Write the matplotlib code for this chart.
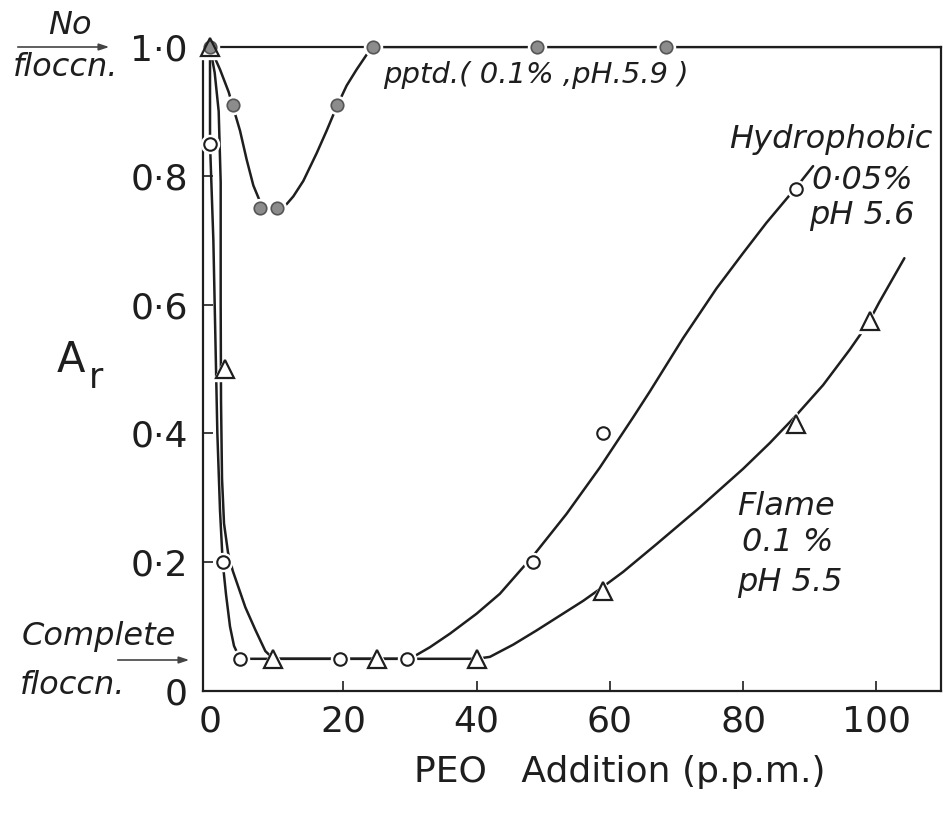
import matplotlib
matplotlib.use("Agg")
import matplotlib.pyplot as plt

# measured points: PEO addition (p.p.m.) vs relative absorbance A_r
pptd_x = [0, 3.5, 7.5, 10, 19, 24.5, 49, 68.5]
pptd_y = [1.0, 0.91, 0.75, 0.75, 0.91, 1.0, 1.0, 1.0]

hydro_x = [0, 2, 4.5, 19.5, 29.5, 48.5, 59, 88]
hydro_y = [0.85, 0.20, 0.05, 0.05, 0.05, 0.20, 0.40, 0.78]

flame_x = [0, 2.3, 9.5, 25, 40, 59, 88, 99]
flame_y = [1.0, 0.50, 0.05, 0.05, 0.05, 0.155, 0.415, 0.575]

# hand-drawn smooth curves through the points
pptd_curve_x = [0, 1.5, 2.8, 4.5, 5.5, 6.5, 7.5, 8.5, 9.5, 10.5, 11.5, 12.5,
                14, 16, 17.5, 19, 20.5, 22, 23.5, 24.5, 110]
pptd_curve_y = [1.0, 0.965, 0.93, 0.87, 0.825, 0.785, 0.76, 0.748, 0.745,
                0.748, 0.756, 0.768, 0.792, 0.835, 0.87, 0.907, 0.94, 0.965,
                0.988, 1.0, 1.0]

hydro_curve_x = [0, 0, 0.5, 0.8, 1.1, 1.5, 1.9, 2.4, 3.0, 3.6, 4.5, 30, 33,
                 36, 40, 43.5, 48.5, 53.5, 58.5, 63.5, 66, 71, 76, 80, 83.5,
                 88.2, 90.5]
hydro_curve_y = [1.0, 0.85, 0.70, 0.55, 0.40, 0.28, 0.20, 0.15, 0.10, 0.07,
                 0.05, 0.05, 0.068, 0.089, 0.12, 0.151, 0.21, 0.275, 0.347,
                 0.425, 0.465, 0.548, 0.625, 0.68, 0.727, 0.785, 0.815]

flame_curve_x = [0, 0.7, 1.3, 1.6, 1.6, 1.65, 1.8, 2.1, 2.7, 3.4, 4.3, 5.3,
                 6.8, 8.3, 9.5, 40, 42, 45.5, 49, 52.5, 56, 59, 62, 67,
                 73.5, 80, 84, 87.7, 92, 96, 98.7, 100.4, 104.2]
flame_curve_y = [1.0, 0.96, 0.9, 0.79, 0.6, 0.45, 0.33, 0.26, 0.215, 0.187,
                 0.16, 0.13, 0.095, 0.062, 0.05, 0.05, 0.053, 0.072, 0.094,
                 0.117, 0.14, 0.162, 0.185, 0.228, 0.285, 0.345, 0.385,
                 0.425, 0.475, 0.53, 0.57, 0.603, 0.672]

x_ticks = [0, 20, 40, 60, 80, 100]
y_ticks = [0, 0.2, 0.4, 0.6, 0.8, 1.0]
y_tick_labels = ["0", "0·2", "0·4", "0·6", "0·8", "1·0"]

ink = "#1e1e1e"
lw = 1.8

fig = plt.figure(figsize=(9.43, 8.14), dpi=100)
ax = fig.add_axes([0.2153, 0.1511, 0.7826, 0.7912])
ax.set_xlim(-1.05, 109.7)
ax.set_ylim(0, 1.0)

for s in ax.spines.values():
    s.set_linewidth(1.6)
    s.set_color(ink)

# curves
for cx, cy in [(pptd_curve_x, pptd_curve_y),
               (hydro_curve_x, hydro_curve_y),
               (flame_curve_x, flame_curve_y)]:
    ax.plot(cx, cy, color=ink, lw=lw, zorder=2, solid_joinstyle="round",
            solid_capstyle="round")

# white halos so the lines break around the symbols
ax.plot(pptd_x, pptd_y, ls="none", marker="o", ms=13, mfc="white", mec="white", zorder=3, clip_on=False)
ax.plot(hydro_x, hydro_y, ls="none", marker="o", ms=13, mfc="white", mec="white", zorder=3, clip_on=False)
ax.plot(flame_x, flame_y, ls="none", marker="^", ms=17, mfc="white", mec="white", zorder=3, clip_on=False)

# symbols
ax.plot(pptd_x, pptd_y, ls="none", marker="o", ms=9, mfc="#8c8c8c", mec="#555555",
        mew=1.2, zorder=4, clip_on=False)
ax.plot(hydro_x, hydro_y, ls="none", marker="o", ms=9, mfc="none", mec=ink,
        mew=1.5, zorder=5, clip_on=False)
ax.plot(flame_x, flame_y, ls="none", marker="^", ms=13, mfc="none", mec=ink,
        mew=1.6, zorder=5, clip_on=False)

# ticks
ax.set_xticks(x_ticks)
ax.set_xticklabels([str(t) for t in x_ticks])
ax.set_yticks(y_ticks)
ax.set_yticklabels(y_tick_labels)
ax.tick_params(direction="in", length=7, width=1.2, color=ink, labelcolor=ink,
               labelsize=26)
ax.tick_params(axis="x", pad=10)
ax.tick_params(axis="y", pad=11)
ax.xaxis.get_major_ticks()[0].tick1line.set_visible(False)
ax.yaxis.get_major_ticks()[0].tick1line.set_visible(False)
ax.yaxis.get_major_ticks()[-1].tick1line.set_visible(False)

# axis titles
fig.text(620 / 943, 1 - 772 / 814, "PEO   Addition (p.p.m.)", ha="center", va="center",
         fontsize=26, color=ink)
fig.text(57 / 943, 1 - 360 / 814, "A", ha="left", va="center", fontsize=30, color=ink)
fig.text(89 / 943, 1 - 378 / 814, "r", ha="left", va="center", fontsize=25, color=ink)

# curve labels
it = dict(fontstyle="italic", color=ink)
ax.text(26, 0.957, "pptd.( 0.1% ,pH.5.9 )", ha="left", va="center", fontsize=21, **it)
ax.text(108.4, 0.856, "Hydrophobic", ha="right", va="center", fontsize=23, **it)
ax.text(105.5, 0.793, "0·05%", ha="right", va="center", fontsize=23, **it)
ax.text(105.8, 0.739, "pH 5.6", ha="right", va="center", fontsize=23, **it)
ax.text(79.1, 0.286, "Flame", ha="left", va="center", fontsize=23, **it)
ax.text(79.8, 0.231, "0.1 %", ha="left", va="center", fontsize=23, **it)
ax.text(79.1, 0.169, "pH 5.5", ha="left", va="center", fontsize=23, **it)

# limit markers on the left
fig.text(70 / 943, 1 - 25 / 814, "No", ha="center", va="center", fontsize=23, **it)
fig.text(13 / 943, 1 - 68 / 814, "floccn.", ha="left", va="center", fontsize=23, **it)
fig.text(22 / 943, 1 - 636 / 814, "Complete", ha="left", va="center", fontsize=23, **it)
fig.text(20 / 943, 1 - 685 / 814, "floccn.", ha="left", va="center", fontsize=23, **it)

arrow = dict(arrowstyle="-|>,head_length=0.6,head_width=0.2", color="#444444", lw=1.2)
ax.annotate("", xy=(112 / 943, 1 - 47 / 814), xytext=(15 / 943, 1 - 47 / 814),
            xycoords="figure fraction", textcoords="figure fraction",
            arrowprops=arrow, annotation_clip=False)
ax.annotate("", xy=(192 / 943, 1 - 660 / 814), xytext=(115 / 943, 1 - 660 / 814),
            xycoords="figure fraction", textcoords="figure fraction",
            arrowprops=arrow, annotation_clip=False)

fig.savefig("out.png", dpi=100, facecolor="white")
